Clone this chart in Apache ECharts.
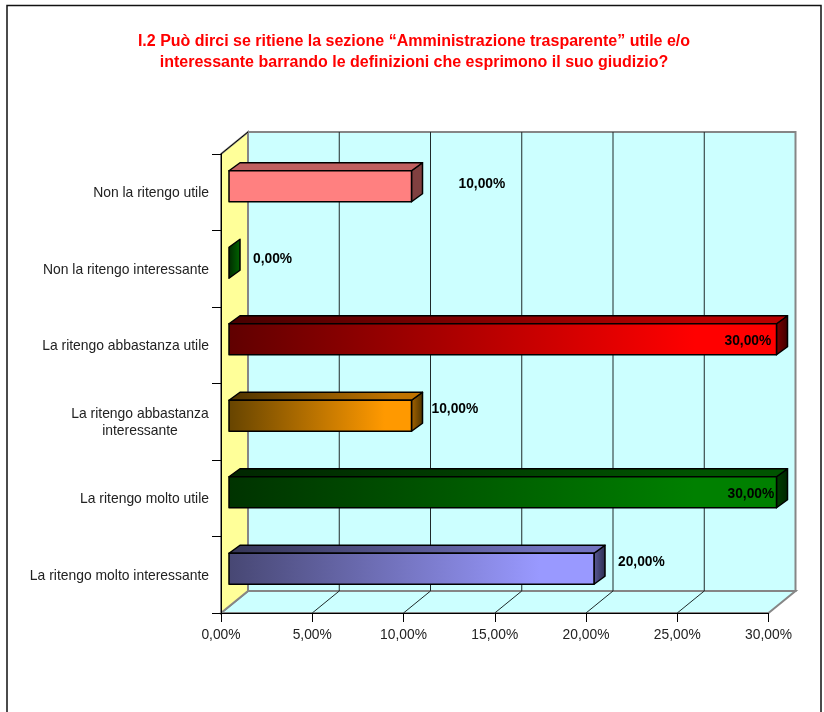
<!DOCTYPE html>
<html>
<head>
<meta charset="utf-8">
<title>I.2</title>
<style>
  html, body { margin: 0; padding: 0; background: #fff; }
  #main { width: 824px; height: 712px; }
</style>
<script src="https://cdn.jsdelivr.net/npm/echarts@6/dist/echarts.min.js"></script>
</head>
<body>
<div id="main"></div>
<script>
const categories = [
  'Non la ritengo utile',
  'Non la ritengo interessante',
  'La ritengo abbastanza utile',
  'La ritengo abbastanza\ninteressante',
  'La ritengo molto utile',
  'La ritengo molto interessante'
]
const values = [10, 0, 30, 10, 30, 20]
const valueLabels = ['10,00%', '0,00%', '30,00%', '10,00%', '30,00%', '20,00%']
const xTicks = [0, 5, 10, 15, 20, 25, 30]
const titleLines = [
  'I.2 Può dirci se ritiene la sezione “Amministrazione trasparente” utile e/o',
  'interessante barrando le definizioni che esprimono il suo giudizio?'
]

// [front start, front end, top start, top end, side start, side end]
const barColors = [
  ['#ff8080', '#ff8080', '#c06060', '#c06060', '#804040', '#804040'],
  ['#003000', '#007000', '#003000', '#005000', '#002800', '#006800'],
  ['#600000', '#ff0000', '#480000', '#b80000', '#800000', '#3c0000'],
  ['#664400', '#ff9900', '#4d3300', '#c07300', '#a86500', '#4d3300'],
  ['#003300', '#008000', '#002600', '#005400', '#004000', '#002400'],
  ['#474773', '#9999ff', '#353556', '#7373c0', '#5c5c99', '#2a2a4d']
]
// where each value label sits relative to the end of its bar
const labelNudge = [[47, -2], [24, -4], [-52, 2], [20, -7], [-49, 2], [24, -7]]

// fake 3d depth of the chart box and of the bars
const wallDx = 27
const wallDy = -22
const barOffX = 8
const barOffY = -6
const barDx = 11
const barDy = -8
const barH = 31

const chart = echarts.init(document.getElementById('main'))

function renderWalls (params, api) {
  const c = params.coordSys
  const x0 = c.x
  const x1 = c.x + c.width
  const y0 = c.y
  const y1 = c.y + c.height
  return {
    type: 'group',
    children: [
      {
        type: 'polygon',
        shape: { points: [[x0 + wallDx, y0 + wallDy], [x1 + wallDx, y0 + wallDy], [x1 + wallDx, y1 + wallDy], [x0 + wallDx, y1 + wallDy]] },
        style: { fill: '#ccffff', stroke: '#868686', lineWidth: 2 }
      },
      {
        type: 'polygon',
        shape: { points: [[x0, y1], [x0 + wallDx, y1 + wallDy], [x1 + wallDx, y1 + wallDy], [x1, y1]] },
        style: { fill: '#ccffff', stroke: '#868686', lineWidth: 2 }
      },
      {
        type: 'polygon',
        shape: { points: [[x0, y0], [x0 + wallDx, y0 + wallDy], [x0 + wallDx, y1 + wallDy], [x0, y1]] },
        style: { fill: '#ffff99', stroke: '#868686', lineWidth: 2 }
      },
      {
        type: 'line',
        shape: { x1: x0, y1: y0, x2: x0 + wallDx, y2: y0 + wallDy },
        style: { stroke: '#000', lineWidth: 1 }
      }
    ]
  }
}

function renderGrid (params, api) {
  const c = params.coordSys
  const x = api.coord([api.value(0), 0])[0]
  const top = c.y + wallDy
  const back = c.y + c.height + wallDy
  const bottom = c.y + c.height
  return {
    type: 'polyline',
    shape: { points: [[x + wallDx, top], [x + wallDx, back], [x, bottom]] },
    style: { fill: 'none', stroke: '#1f2a2a', lineWidth: 1 }
  }
}

function renderBar (params, api) {
  const i = api.value(1)
  const p = api.coord([api.value(0), i])
  const start = api.coord([0, i])
  const col = barColors[i]
  const x0 = start[0] + barOffX
  const x1 = p[0] + barOffX
  const yt = p[1] + barOffY - barH / 2
  const yb = yt + barH
  const grad = (a, b) => new echarts.graphic.LinearGradient(0, 0, 1, 0, [
    { offset: 0, color: a },
    { offset: 0.85, color: b },
    { offset: 1, color: b }
  ])
  const edge = { stroke: '#000', lineWidth: 1.5, lineJoin: 'round' }
  const zero = api.value(0) === 0
  const children = [
    {
      type: 'polygon',
      shape: { points: [[x1, yt], [x1 + barDx, yt + barDy], [x1 + barDx, yb + barDy], [x1, yb]] },
      style: Object.assign({
        fill: new echarts.graphic.LinearGradient(0, 0, 1, 0, [
          { offset: 0, color: col[4] },
          { offset: 1, color: col[5] }
        ])
      }, edge)
    }
  ]
  if (!zero) {
    children.push({
      type: 'polygon',
      shape: { points: [[x0, yt], [x0 + barDx, yt + barDy], [x1 + barDx, yt + barDy], [x1, yt]] },
      style: Object.assign({ fill: grad(col[2], col[3]) }, edge)
    })
    children.push({
      type: 'polygon',
      shape: { points: [[x0, yt], [x1, yt], [x1, yb], [x0, yb]] },
      style: Object.assign({ fill: grad(col[0], col[1]) }, edge)
    })
  }
  children.push({
    type: 'text',
    style: {
      x: x1 + labelNudge[i][0],
      y: p[1] + barOffY + labelNudge[i][1],
      text: valueLabels[i],
      fill: '#000',
      font: 'bold 13.8px "Liberation Sans", Arial, sans-serif',
      align: 'left',
      verticalAlign: 'middle'
    }
  })
  return { type: 'group', children: children }
}

const option = {
  backgroundColor: '#fff',
  animation: false,
  title: {
    text: titleLines.join('\n'),
    left: 414,
    top: 31,
    padding: 0,
    textAlign: 'center',
    textStyle: {
      color: '#ff0000',
      fontFamily: '"Liberation Sans", Arial, sans-serif',
      fontSize: 16,
      fontWeight: 'bold',
      lineHeight: 21
    }
  },
  // page frame, open at the bottom
  graphic: [
    {
      type: 'polyline',
      silent: true,
      shape: { points: [[7, 712], [7, 5.5], [821, 5.5], [821, 712]] },
      style: { fill: 'none', stroke: '#111', lineWidth: 1.5 }
    }
  ],
  grid: { left: 221, right: 55.5, top: 154, bottom: 99 },
  xAxis: {
    type: 'value',
    min: 0,
    max: 30,
    interval: 5,
    z: 10,
    splitLine: { show: false },
    axisLine: { show: true, lineStyle: { color: '#000', width: 1 } },
    axisTick: { show: true, length: 9, lineStyle: { color: '#000' } },
    axisLabel: {
      color: '#222',
      fontFamily: '"Liberation Sans", Arial, sans-serif',
      fontSize: 13.8,
      margin: 15,
      hideOverlap: false,
      formatter: v => v + ',00%'
    }
  },
  yAxis: {
    type: 'category',
    inverse: true,
    data: categories,
    z: 10,
    axisLine: { show: true, lineStyle: { color: '#000', width: 1 } },
    axisTick: { show: true, length: 9, alignWithLabel: false, lineStyle: { color: '#000' } },
    axisLabel: {
      color: '#222',
      fontFamily: '"Liberation Sans", Arial, sans-serif',
      fontSize: 13.9,
      margin: 12,
      interval: 0,
      lineHeight: 17,
      padding: [2, 0, 0, 0],
      formatter: v => v.indexOf('\n') < 0 ? v : v.split('\n').map(s => '{c|' + s + '}').join('\n'),
      rich: {
        c: {
          width: 138,
          align: 'center',
          fontSize: 13.9,
          lineHeight: 17,
          color: '#222',
          fontFamily: '"Liberation Sans", Arial, sans-serif'
        }
      }
    }
  },
  series: [
    {
      type: 'custom',
      name: 'walls',
      z: 1,
      clip: false,
      silent: true,
      renderItem: renderWalls,
      data: [[0, 0]]
    },
    {
      type: 'custom',
      name: 'griglia',
      z: 2,
      clip: false,
      silent: true,
      renderItem: renderGrid,
      data: xTicks.slice(1, -1).map(t => [t, 0])
    },
    {
      type: 'custom',
      name: 'valori',
      z: 5,
      clip: false,
      silent: true,
      renderItem: renderBar,
      encode: { x: 0, y: 1 },
      data: values.map((v, i) => [v, i])
    }
  ]
}

chart.setOption(option)

window.addEventListener('resize', () => {
  chart.resize()
})
</script>
</body>
</html>
